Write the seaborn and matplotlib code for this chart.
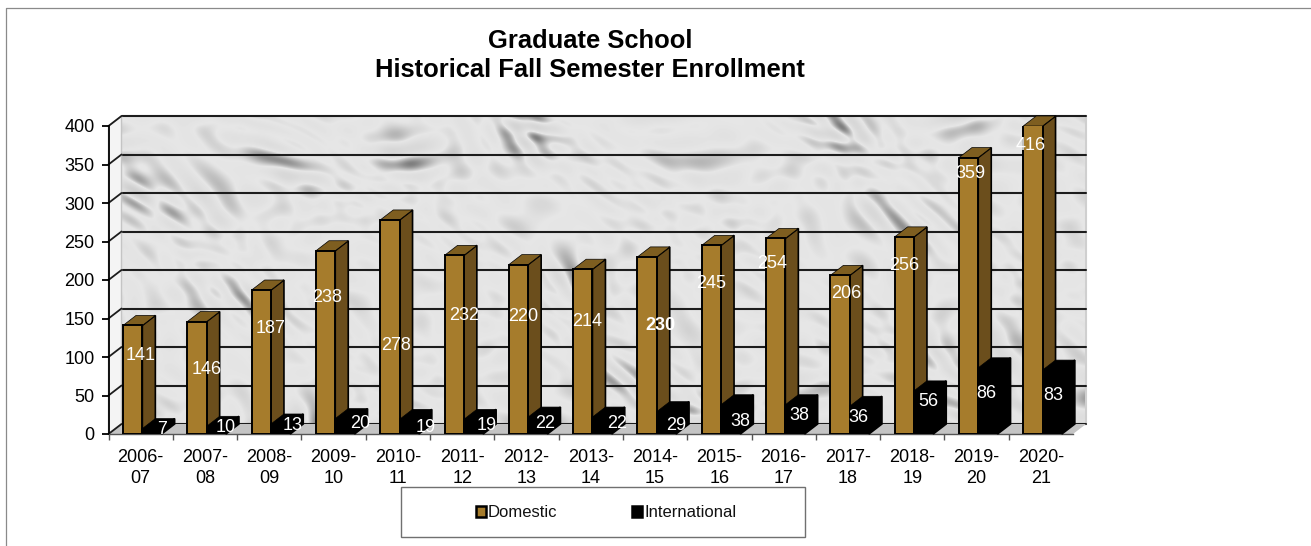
import numpy as np
import pandas as pd
import matplotlib
matplotlib.use("Agg")
import matplotlib.pyplot as plt
from matplotlib.patches import Polygon, Rectangle
from matplotlib.lines import Line2D
import seaborn as sns

years = ["2006-\n07", "2007-\n08", "2008-\n09", "2009-\n10", "2010-\n11", "2011-\n12", "2012-\n13", "2013-\n14",
         "2014-\n15", "2015-\n16", "2016-\n17", "2017-\n18", "2018-\n19", "2019-\n20", "2020-\n21"]
domestic = [141, 146, 187, 238, 278, 232, 220, 214, 230, 245, 254, 206, 256, 359, 416]
international = [7, 10, 13, 20, 19, 19, 22, 22, 29, 38, 38, 36, 56, 86, 83]
y_ticks = [0, 50, 100, 150, 200, 250, 300, 350, 400]

# hand-placed data labels in the original: pixel positions in the picture
dom_label_px = [141, 207, 271, 327, 396, 464, 523, 587, 660, 711, 772, 846, 904, 970, 1031]
dom_label_py = [355, 370, 329, 297, 345, 315, 317, 321, 325, 284, 263, 294, 265, 174, 145]
int_label_px = [162, 226, 293, 360, 426, 487, 545, 617, 676, 740, 799, 858, 928, 986, 1053]
int_label_py = [430, 427, 425, 423, 427, 425, 424, 423, 426, 422, 415, 417, 401, 394, 395]

W, H = 1311, 546
X0, X1, Y0, Y400 = 108.5, 1073.0, 434.0, 126.0
DX, DY = 13.0, 10.0
BROWN, SIDE, TOP = "#A67C2C", "#6B4E1C", "#7E5E20"

sns.set_theme(style="white")
plt.rcParams["font.family"] = ["Liberation Sans", "DejaVu Sans"]
fig = plt.figure(figsize=(W / 100, H / 100), dpi=100, facecolor="white")


def rect(x0, x1, ytop, ybot):
    return [x0 / W, 1 - ybot / H, (x1 - x0) / W, (ybot - ytop) / H]


# marble back wall: mottled diagonal streaks made of overlapping waves
ax_bg = fig.add_axes(rect(X0 + DX, X1 + DX, Y400 - DY, Y0 - DY), zorder=0)
ny, nx = 308, 965
yy, xx = np.mgrid[0:ny, 0:nx].astype(float)
u = xx * 0.88 + yy * 0.47 + 11 * np.sin(yy / 31.0 + xx / 67.0)
v = -xx * 0.47 + yy * 0.88 + 9 * np.sin(xx / 43.0 - yy / 29.0)
field = np.zeros_like(xx)
for i in range(1, 31):
    a = 0.030 + 0.120 * ((i * 0.61803) % 1.0)
    b = 0.060 + 0.240 * ((i * 0.41421) % 1.0)
    field += np.sin(a * u + i * 2.399) * np.sin(b * v + i * 1.17)
field = field / field.std()
dark = np.clip(field - 0.15, 0, None)
light = 0.90 - 0.085 * dark + 0.012 * field
ax_bg.imshow(np.clip(light, 0.42, 0.96), cmap="gray", vmin=0, vmax=1, aspect="auto",
             extent=[0, 1, 0, 400], origin="upper", zorder=0, interpolation="bilinear")
ax_bg.set_ylim(0, 400)
ax_bg.set_xlim(0, 1)
ax_bg.set_xticks([])
ax_bg.set_yticks(y_ticks)
ax_bg.tick_params(left=False, labelleft=False)
ax_bg.grid(axis="y", color="#1c1c1c", linewidth=1.5, zorder=1)
ax_bg.set_axisbelow(False)
for line in ax_bg.get_ygridlines():
    line.set_clip_on(False)
for s in ax_bg.spines.values():
    s.set_visible(False)
ax_bg.spines["right"].set_visible(True)
ax_bg.spines["right"].set_color("#cfcfcf")
ax_bg.spines["right"].set_linewidth(1.5)

# bars
ax = fig.add_axes(rect(X0, X1, Y400, Y0), zorder=1)
ax.patch.set_alpha(0)
df = pd.DataFrame({
    "year": years * 2,
    "count": domestic + international,
    "kind": ["Domestic"] * len(years) + ["International"] * len(years),
})
sns.barplot(data=df, x="year", y="count", hue="kind", order=years,
            hue_order=["Domestic", "International"],
            palette={"Domestic": BROWN, "International": "black"},
            width=0.6, gap=0, saturation=1, edgecolor="black", linewidth=1.4,
            legend=True, ax=ax)
ax.set_xlim(-0.5, len(years) - 0.5)
ax.set_ylim(0, 400)
ax.set_xlabel("")
ax.set_ylabel("")
px_x = (X1 - X0) / len(years)
px_y = (Y0 - Y400) / 400
ddx, ddy = DX / px_x, DY / px_y
shift = 1.7 / px_x


def px(x, y):
    return ((x - X0) / px_x - 0.5, (Y0 - y) / px_y)


# floor and left wall
ax.add_patch(Polygon([(-0.5, 0), (-0.5 + ddx, ddy), (14.5 + ddx, ddy), (14.5, 0)], closed=True,
                     facecolor="#c4c4c4", edgecolor="none", zorder=0.6, clip_on=False))
ax.add_patch(Polygon([(-0.5, 0), (-0.5 + ddx, ddy), (-0.5 + ddx, 400 + ddy), (-0.5, 400)], closed=True,
                     facecolor="#f4f4f4", edgecolor="#c4c4c4", linewidth=1.0, zorder=0.5, clip_on=False))
for t in y_ticks:
    ax.plot([-0.5, -0.5 + ddx], [t, t + ddy], color="#1c1c1c", lw=1.3, clip_on=False, zorder=0.7)

# 3-D sides and tops, built from the seaborn bars
for k, cont in enumerate(ax.containers):
    is_dom = k == 0
    for bar in cont:
        bar.set_x(bar.get_x() + shift)
        x, w, h = bar.get_x(), bar.get_width(), min(bar.get_height(), 400)
        bar.set_zorder(3 if is_dom else 5)
        side = [(x + w, 0), (x + w + ddx, ddy), (x + w + ddx, h + ddy), (x + w, h)]
        top = [(x, h), (x + ddx, h + ddy), (x + w + ddx, h + ddy), (x + w, h)]
        ax.add_patch(Polygon(side, closed=True, facecolor=SIDE if is_dom else "black", edgecolor="black",
                             linewidth=1.2, zorder=2 if is_dom else 4, clip_on=False))
        ax.add_patch(Polygon(top, closed=True, facecolor=TOP if is_dom else "black", edgecolor="black",
                             linewidth=0.5, zorder=2 if is_dom else 4, clip_on=False))

# data labels
for i, val in enumerate(domestic):
    dx, dy = px(dom_label_px[i], dom_label_py[i])
    ax.text(dx, dy, str(val), color="white", fontsize=13, ha="center", va="center", zorder=10, clip_on=False,
            fontweight="bold" if val == 230 else "normal")
for i, val in enumerate(international):
    dx, dy = px(int_label_px[i], int_label_py[i])
    ax.text(dx, dy, str(val), color="white", fontsize=13, ha="center", va="center", zorder=10, clip_on=False)

# axes
for name in ("top", "right"):
    ax.spines[name].set_visible(False)
ax.spines["left"].set_color("black")
ax.spines["left"].set_linewidth(1.3)
ax.spines["bottom"].set_color("#555555")
ax.spines["bottom"].set_linewidth(1.0)
ax.set_yticks(y_ticks)
ax.set_xticks(np.arange(len(years)) - 0.5, minor=True)
ax.set_xticks(np.arange(len(years)))
ax.set_xticklabels(years, linespacing=1.36)
ax.tick_params(axis="x", which="major", length=0, pad=10.5, labelsize=13, colors="black")
ax.tick_params(axis="x", which="minor", length=4, width=1, color="#555555", bottom=True)
ax.tick_params(axis="y", length=5, width=1.3, color="black", pad=5, labelsize=13, left=True, labelcolor="black")
ax.set_axisbelow(False)

# legend
handles, labels = ax.get_legend_handles_labels()
fig.add_artist(Rectangle((400.5 / W, 1 - 537 / H), 404 / W, 50 / H, transform=fig.transFigure,
                         facecolor="white", edgecolor="#707070", linewidth=1.0))
leg = ax.legend(handles, labels, ncol=2, frameon=False, fontsize=12, loc="center",
                bbox_to_anchor=(606 / W, 1 - 512.5 / H), bbox_transform=fig.transFigure,
                handlelength=0.62, handleheight=0.62, handletextpad=0.12, columnspacing=4.46,
                borderpad=0, labelcolor="#111111")
leg.set_zorder(20)
for h in leg.legend_handles:
    h.set_linewidth(1.8)

# title and outer frame
fig.text(590 / W, 1 - 55.5 / H, "Graduate School\nHistorical Fall Semester Enrollment", ha="center", va="center",
         fontsize=18.4, fontweight="bold", color="black", linespacing=1.25)
fig.add_artist(Line2D([6.5 / W, 6.5 / W, 1], [0, 1 - 7.5 / H, 1 - 7.5 / H], color="#8a8a8a", linewidth=0.9))

fig.savefig("out.png", dpi=100, facecolor="white")
